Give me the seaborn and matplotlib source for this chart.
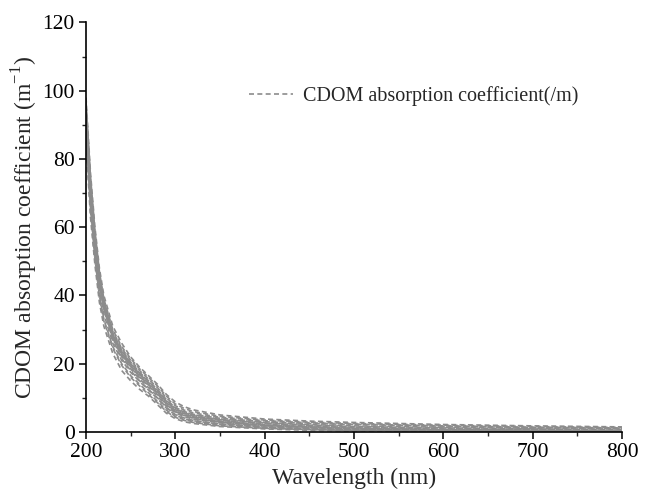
import numpy as np
import pandas as pd
import seaborn as sns
import matplotlib.pyplot as plt
from matplotlib.lines import Line2D
from matplotlib.ticker import MultipleLocator

# wavelength grid (nm) shared by every sample
wavelength = [200, 205, 210, 215, 220, 230, 240, 250, 260, 270, 280, 290, 300, 310, 320, 350, 400, 450, 500, 600, 700, 800]

# absorption coefficient (m^-1), one list per sample
s01 = [98, 76, 60, 48, 40, 31, 26, 22, 19, 16.5, 14, 11, 8.8, 7.4, 6.5, 5.0, 3.8, 3.2, 2.8, 2.2, 1.8, 1.5]
s02 = [95, 73, 57, 46, 38, 29, 24, 20.5, 17.5, 15, 12.5, 9.5, 7.2, 6.0, 5.2, 4.0, 3.0, 2.5, 2.2, 1.7, 1.3, 1.1]
s03 = [93, 71, 56, 45, 37, 28.5, 23, 19.5, 16.5, 14, 11.5, 8.5, 6.3, 5.2, 4.4, 3.2, 2.1, 1.5, 1.1, 0.7, 0.5, 0.3]
s04 = [92, 70, 55, 44, 36.5, 28, 22.5, 19, 16, 13.5, 11, 8.0, 5.9, 4.8, 4.0, 2.9, 1.9, 1.4, 1.0, 0.6, 0.4, 0.3]
s05 = [90, 69, 54, 43, 36, 27.5, 22, 18.5, 15.5, 13, 10.5, 7.6, 5.6, 4.5, 3.8, 2.7, 1.8, 1.3, 0.9, 0.6, 0.4, 0.2]
s06 = [96, 74, 58, 46, 38.5, 29.5, 24.5, 21, 18, 15.5, 13, 10, 7.7, 6.4, 5.6, 4.3, 3.3, 2.7, 2.3, 1.8, 1.4, 1.2]
s07 = [91, 69, 54, 43.5, 36, 27, 21.5, 18, 15, 12.5, 10, 7.2, 5.1, 4.1, 3.4, 2.4, 1.5, 1.0, 0.7, 0.4, 0.3, 0.2]
s08 = [88, 66, 51, 40, 33, 25, 20, 16.5, 14, 11.5, 9.0, 6.4, 4.6, 3.6, 3.0, 2.0, 1.2, 0.8, 0.5, 0.3, 0.2, 0.1]
s09 = [85, 63, 49, 38, 31, 23, 18, 15, 12.5, 10.5, 8.0, 5.5, 3.9, 3.0, 2.5, 1.6, 0.9, 0.5, 0.3, 0.15, 0.1, 0.05]
s10 = [94, 72, 56.5, 45.5, 37.5, 28.5, 23.5, 20, 17, 14.5, 12, 9.0, 6.8, 5.6, 4.8, 3.6, 2.6, 2.0, 1.6, 1.2, 0.9, 0.7]
s11 = [89, 67, 52, 41.5, 34.5, 26, 21, 17.5, 14.8, 12.3, 9.8, 7.0, 5.0, 3.9, 3.3, 2.3, 1.4, 0.9, 0.6, 0.35, 0.25, 0.15]
s12 = [92, 70.5, 55.5, 44.5, 37, 28, 23, 19.8, 16.8, 14.2, 11.8, 8.8, 6.5, 5.4, 4.6, 3.4, 2.4, 1.8, 1.4, 1.0, 0.7, 0.5]
s13 = [97, 75, 59, 47, 39, 30, 25, 21.5, 18.5, 16, 13.5, 10.5, 8.2, 6.9, 6.0, 4.6, 3.5, 2.9, 2.5, 2.0, 1.6, 1.3]
s14 = [87, 65, 50.5, 39.5, 32.5, 24.5, 19.5, 16, 13.5, 11, 8.6, 6.0, 4.3, 3.4, 2.8, 1.8, 1.1, 0.7, 0.45, 0.25, 0.15, 0.1]
s15 = [91, 70, 55, 44, 36.5, 27.8, 22.8, 19.2, 16.2, 13.8, 11.2, 8.2, 6.0, 4.9, 4.2, 3.0, 2.0, 1.5, 1.2, 0.8, 0.6, 0.4]
s16 = [93, 71.5, 56, 45, 37.2, 28.8, 23.8, 20.2, 17.2, 14.8, 12.2, 9.2, 7.0, 5.8, 5.0, 3.8, 2.8, 2.2, 1.8, 1.4, 1.1, 0.9]

samples = [s01, s02, s03, s04, s05, s06, s07, s08, s09, s10, s11, s12, s13, s14, s15, s16]

rows = []
for i, vals in enumerate(samples):
    for wl, v in zip(wavelength, vals):
        rows.append({'sample': i, 'wavelength': wl, 'value': v})
df = pd.DataFrame(rows)

sns.set_style('ticks')
plt.rcParams['font.family'] = ['Liberation Serif', 'DejaVu Serif']
plt.rcParams['mathtext.fontset'] = 'custom'
plt.rcParams['mathtext.rm'] = 'Liberation Serif'

line_color = '#8c8c8c'
dash = (0, (3, 2))
fig = plt.figure(figsize=(6.54, 4.94), dpi=100)
ax = fig.add_axes([0.1315, 0.1255, 0.8195, 0.829])

sns.lineplot(data=df, x='wavelength', y='value', units='sample', estimator=None,
             color=line_color, linewidth=1.2, linestyle=dash, ax=ax, legend=False)

ax.set_xlim(200, 800)
ax.set_ylim(0, 120)
ax.xaxis.set_major_locator(MultipleLocator(100))
ax.xaxis.set_minor_locator(MultipleLocator(50))
ax.yaxis.set_major_locator(MultipleLocator(20))
ax.yaxis.set_minor_locator(MultipleLocator(10))
ax.tick_params(which='major', direction='out', length=5, width=1.1, labelsize=15.5, colors='black', pad=3)
ax.tick_params(which='minor', direction='out', length=3, width=1.0)
for side in ['top', 'right']:
    ax.spines[side].set_visible(False)
for side in ['left', 'bottom']:
    ax.spines[side].set_linewidth(1.2)
    ax.spines[side].set_color('black')

ax.set_xlabel('Wavelength (nm)', fontsize=17, labelpad=4)
ax.set_ylabel('CDOM absorption coefficient (m$^{-1}$)', fontsize=17, labelpad=2)

handle = Line2D([], [], color=line_color, linewidth=1.2, linestyle=dash)
ax.legend([handle], ['CDOM absorption coefficient(/m)'], loc='upper left',
          bbox_to_anchor=(0.27, 0.89), frameon=False, fontsize=14.5,
          handlelength=2.2, handletextpad=0.5)

fig.savefig('out.png', dpi=100)
